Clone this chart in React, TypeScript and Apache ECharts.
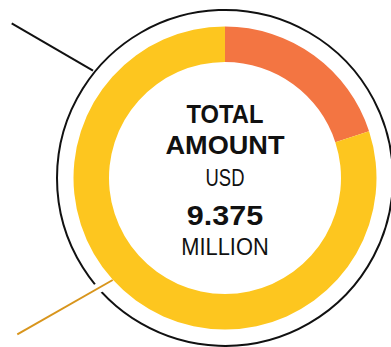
import React, { useEffect, useRef } from "react";
import * as echarts from "echarts";

const categories = ["Segment A", "Segment B"];
const values = [1.875, 7.5];
const colors = ["#F37542", "#FDC61F"];
const centerLines = ["TOTAL", "AMOUNT", "USD", "9.375", "MILLION"];

export default function App() {
  const ref = useRef<HTMLDivElement>(null);
  useEffect(() => {
    if (!ref.current) return;
    const chart = echarts.init(ref.current, null, { renderer: "svg" });
    const cx = 225;
    const cy = 178;
    const textStyle = (
      text: string,
      size: number,
      weight: string | number,
      y: number,
      sx: number
    ) => ({
      type: "text",
      x: cx,
      y,
      scaleX: sx,
      z: 4,
      style: {
        text,
        fontFamily: "'Liberation Sans Narrow', 'Liberation Sans', sans-serif",
        fontSize: size,
        fontWeight: weight,
        fill: "#111",
        align: "center",
        verticalAlign: "middle",
      },
    });
    chart.setOption({
      animation: false,
      backgroundColor: "#fff",
      graphic: [
        {
          type: "circle",
          shape: { cx, cy, r: 168 },
          style: { fill: "none", stroke: "#111", lineWidth: 2 },
          z: 0,
        },
        {
          type: "line",
          shape: { x1: 11.7, y1: 23.3, x2: 93, y2: 70.7 },
          style: { stroke: "#111", lineWidth: 2 },
          z: 1,
        },
        {
          type: "line",
          shape: { x1: 80, y1: 298.6, x2: 108, y2: 282.7 },
          style: { stroke: "#fff", lineWidth: 10 },
          z: 2,
        },
        {
          type: "line",
          shape: { x1: 17.3, y1: 334.3, x2: 112.7, y2: 280 },
          style: { stroke: "#D8951C", lineWidth: 2 },
          z: 3,
        },
        textStyle(centerLines[0], 25, 900, 114, 0.95),
        textStyle(centerLines[1], 25, 900, 145, 1.085),
        textStyle(centerLines[2], 23, "normal", 178, 0.8),
        textStyle(centerLines[3], 28, 900, 215, 1.09),
        textStyle(centerLines[4], 24, "normal", 247, 0.91),
      ],
      series: [
        {
          type: "pie",
          center: [cx, cy],
          radius: [116, 151.5],
          startAngle: 90,
          clockwise: true,
          silent: true,
          label: { show: false },
          labelLine: { show: false },
          itemStyle: { borderWidth: 0 },
          data: categories.map((name, i) => ({
            name,
            value: values[i],
            itemStyle: { color: colors[i] },
          })),
        },
      ],
    });
    return () => chart.dispose();
  }, []);
  return <div ref={ref} style={{ width: 391, height: 347, position: "absolute", left: 0, top: 0 }} />;
}
